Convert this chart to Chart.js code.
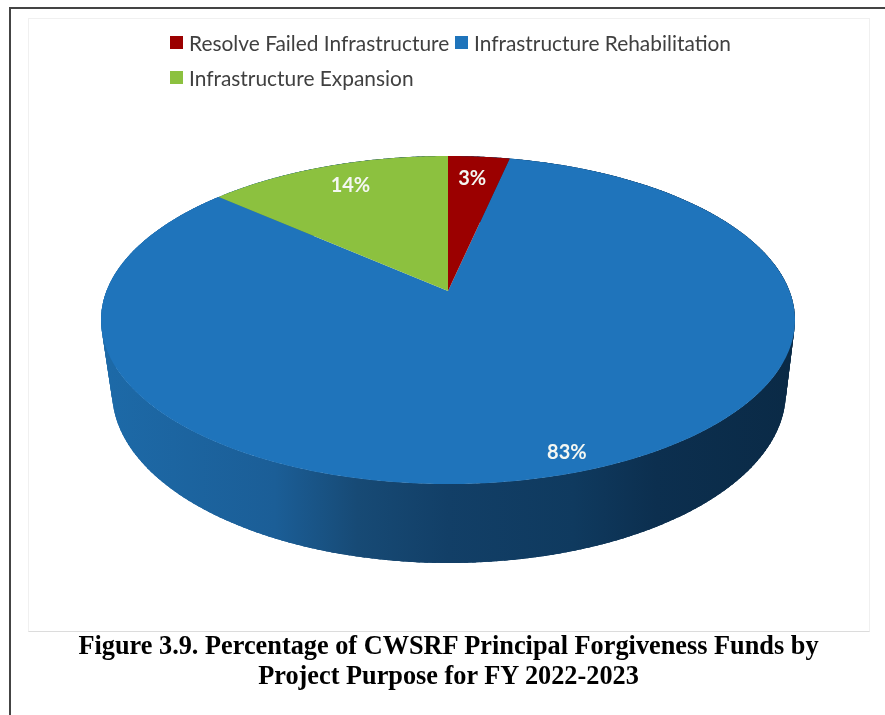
<!DOCTYPE html>
<html>
<head>
<meta charset="utf-8">
<script src="https://cdn.jsdelivr.net/npm/chart.js@4"></script>
<style>
    html, body { margin: 0; padding: 0; background: #fff; }
    body { width: 885px; height: 715px; position: relative; overflow: hidden; }
    #frame { position: absolute; left: 9px; top: 7px; width: 900px; height: 720px; border: 2px solid #444; }
    #plotbox { position: absolute; left: 28px; top: 18px; width: 840px; height: 612px; border: 1px solid #f0f0f0; border-bottom-color: #dcdcdc; }
    #myChart { position: absolute; left: 0; top: 0; }
    .legend { position: absolute; font: 20.9px Lato, sans-serif; color: #404040; white-space: nowrap; line-height: 24px; }
    .legend i { position: absolute; left: -19px; top: 5px; width: 13px; height: 13px; }
    #caption { position: absolute; left: 0; top: 631px; width: 897px; text-align: center; font: bold 26.3px/30px "Liberation Serif", serif; color: #000; }
</style>
</head>
<body>
<div id="frame"></div>
<div id="plotbox"></div>
<canvas id="myChart" width="885" height="715"></canvas>
<div id="legendBox"></div>
<div id="caption">Figure 3.9. Percentage of CWSRF Principal Forgiveness Funds by<br>Project Purpose for FY 2022-2023</div>
<script>
const labels = ["Resolve Failed Infrastructure", "Infrastructure Rehabilitation", "Infrastructure Expansion"];
const values = [3.4, 83.1, 13.5];
const colors = ["#9b0000", "#1f74bb", "#8cc13f"];

// perspective of the top face and of the bottom rim
const topFace = { cx: 448, cy: 291, a: 341.5, b: 158.9, k: -0.177 };
const rim = { cx: 449, cy: 363, a: 332, b: 166, k: -0.17 };
const labelRadius = [0.824, 0.906, 0.827];
const labelNudge = [[-2, 1], [5, 0], [5, 0]];

const project = (p, angle, r) => {
    let x = Math.cos(angle) * r;
    let y = Math.sin(angle) * r;
    let w = 1 + p.k * y;
    return [p.cx + p.a * x / w, p.cy + p.b * y / w];
};

const pie3d = {
    id: 'pie3d',
    beforeDatasetsDraw(chart) {
        const ctx = chart.ctx;
        const arcs = chart.getDatasetMeta(0).data;

        // side wall, pieces overlap so no seams show
        let grad = ctx.createLinearGradient(101, 0, 795, 0);
        grad.addColorStop(0, "#1d6aa8");
        grad.addColorStop(0.25, "#1b5e97");
        grad.addColorStop(0.37, "#174a75");
        grad.addColorStop(0.5, "#123f67");
        grad.addColorStop(0.68, "#0f3a5f");
        grad.addColorStop(0.8, "#0c2f4f");
        grad.addColorStop(1, "#0a2a46");
        ctx.fillStyle = grad;
        arcs.forEach((arc) => {
            for (let t = arc.startAngle; t < arc.endAngle; t += 0.02) {
                let n = Math.min(t + 0.05, arc.endAngle);
                let p1 = project(topFace, t, 1), p2 = project(topFace, n, 1);
                let p3 = project(rim, n, 1), p4 = project(rim, t, 1);
                ctx.beginPath();
                ctx.moveTo(p1[0], p1[1]);
                ctx.lineTo(p2[0], p2[1]);
                ctx.lineTo(p3[0], p3[1]);
                ctx.lineTo(p4[0], p4[1]);
                ctx.closePath();
                ctx.fill();
            }
        });

        // top face, blue first so the small slices sit on it
        [1, 2, 0].forEach((i) => {
            let arc = arcs[i];
            ctx.beginPath();
            ctx.moveTo(topFace.cx, topFace.cy);
            for (let t = arc.startAngle; t < arc.endAngle; t += 0.01) {
                let p = project(topFace, t, 1);
                ctx.lineTo(p[0], p[1]);
            }
            let end = project(topFace, arc.endAngle, 1);
            ctx.lineTo(end[0], end[1]);
            ctx.closePath();
            ctx.fillStyle = colors[i];
            ctx.fill();
        });

        // percent labels
        ctx.font = "bold 20px Lato, sans-serif";
        ctx.fillStyle = "#f4f7f2";
        ctx.textAlign = "center";
        ctx.textBaseline = "middle";
        arcs.forEach((arc, i) => {
            let p = project(topFace, (arc.startAngle + arc.endAngle) / 2, labelRadius[i]);
            ctx.fillText(Math.round(values[i]) + "%", p[0] + labelNudge[i][0], p[1] + labelNudge[i][1]);
        });
        return false;
    }
};

new Chart(document.getElementById("myChart"), {
    type: 'pie',
    data: {
        labels: labels,
        datasets: [{ data: values, backgroundColor: colors, borderWidth: 0 }]
    },
    options: {
        responsive: false,
        animation: false,
        plugins: {
            legend: { display: false },
            tooltip: { enabled: false }
        }
    },
    plugins: [pie3d]
});

// 범례
const legendPos = [[189, 31], [474, 31], [189, 66]];
labels.forEach((text, i) => {
    let item = document.createElement("div");
    item.className = "legend";
    item.style.left = legendPos[i][0] + "px";
    item.style.top = legendPos[i][1] + "px";
    item.innerHTML = `<i style="background:${colors[i]}"></i>${text}`;
    document.getElementById("legendBox").appendChild(item);
});
</script>
</body>
</html>
